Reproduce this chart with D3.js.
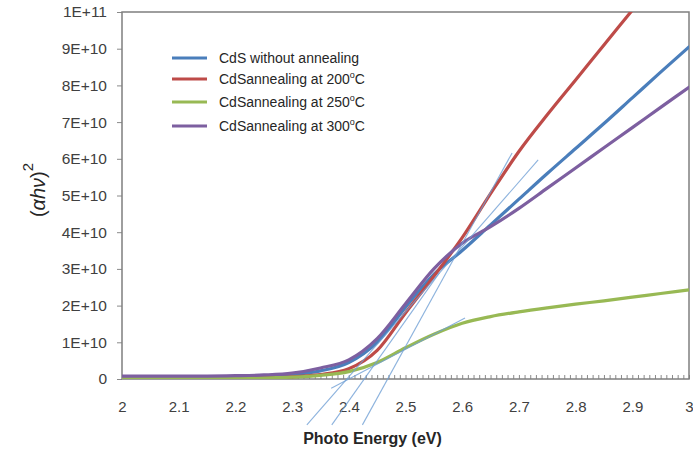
<!DOCTYPE html>
<html>
<head>
<meta charset="utf-8">
<script src="https://cdn.jsdelivr.net/npm/d3@7/dist/d3.min.js"></script>
<style>
  html, body { margin: 0; padding: 0; background: #fff; }
  svg { display: block; }
  text { font-family: "Liberation Sans", Arial, sans-serif; }
</style>
</head>
<body>
<svg id="chart" width="693" height="452"></svg>
<script>
// Photon energy (eV) sampled for every series
const energy = [2.00, 2.05, 2.10, 2.15, 2.20, 2.25, 2.30, 2.35, 2.40, 2.45, 2.50,
                2.55, 2.60, 2.65, 2.70, 2.75, 2.80, 2.85, 2.90, 2.95, 3.00];

// (αhν)² values in units of 1E+10
const cdsAsDeposited = [0.05, 0.05, 0.05, 0.05, 0.06, 0.08, 0.12, 0.22, 0.45, 1.00, 1.95,
                        2.85, 3.50, 4.20, 4.90, 5.60, 6.28, 6.96, 7.66, 8.36, 9.05];
const cdsAnneal200 = [0.02, 0.02, 0.02, 0.02, 0.03, 0.04, 0.06, 0.12, 0.28, 0.78, 1.80,
                      2.80, 3.85, 5.05, 6.20, 7.20, 8.15, 9.10, 10.05, 11.0, 11.95];
const cdsAnneal250 = [0.02, 0.02, 0.02, 0.02, 0.02, 0.03, 0.05, 0.10, 0.20, 0.45, 0.85,
                      1.22, 1.52, 1.70, 1.83, 1.94, 2.04, 2.13, 2.23, 2.33, 2.43];
const cdsAnneal300 = [0.08, 0.08, 0.08, 0.08, 0.09, 0.11, 0.16, 0.30, 0.52, 1.10, 2.05,
                      3.00, 3.70, 4.15, 4.65, 5.20, 5.75, 6.30, 6.85, 7.40, 7.95];

const seriesNames = ["CdS without annealing", "CdSannealing at 200", "CdSannealing at 250", "CdSannealing at 300"];
const seriesColors = ["#4a7ebb", "#be4b48", "#98b954", "#7d5fa0"];

// Linear-region extrapolations to the energy axis: [energy, value(1E+10)] end points
const tangentAsDeposited = [[2.326, -1.25], [2.734, 5.97]];
const tangent200 = [[2.424, -1.25], [2.688, 6.16]];
const tangent300 = [[2.370, -1.25], [2.560, 2.90]];
const tangent250 = [[2.369, -0.25], [2.605, 1.66]];

const xTicks = [2.0, 2.1, 2.2, 2.3, 2.4, 2.5, 2.6, 2.7, 2.8, 2.9, 3.0];
const xTickLabels = ["2", "2.1", "2.2", "2.3", "2.4", "2.5", "2.6", "2.7", "2.8", "2.9", "3"];
const yTicks = [0, 1, 2, 3, 4, 5, 6, 7, 8, 9, 10];
const yTickLabels = ["0", "1E+10", "2E+10", "3E+10", "4E+10", "5E+10", "6E+10", "7E+10", "8E+10", "9E+10", "1E+11"];

const svg = d3.select("#chart");
const plot = { left: 122, right: 689, top: 12, bottom: 379 };

const x = d3.scaleLinear().domain([2, 3]).range([plot.left, plot.right]);
const y = d3.scaleLinear().domain([0, 10]).range([plot.bottom, plot.top]);

svg.append("defs").append("clipPath").attr("id", "plotClip")
  .append("rect")
  .attr("x", plot.left).attr("y", plot.top)
  .attr("width", plot.right - plot.left).attr("height", plot.bottom - plot.top);

// Minor ticks on the energy axis (inside the frame)
const minorTicks = d3.range(0, 101).map(i => 2 + i * 0.01);
svg.append("g")
  .attr("transform", `translate(0,${plot.bottom})`)
  .call(d3.axisBottom(x).tickValues(minorTicks).tickSize(-4).tickFormat(""))
  .call(g => g.select(".domain").remove())
  .call(g => g.selectAll("line").attr("stroke", "#8a8a8a").attr("stroke-width", 1));

// Energy axis labels
svg.append("g")
  .attr("transform", `translate(0,${plot.bottom})`)
  .call(d3.axisBottom(x).tickValues(xTicks).tickSize(0).tickPadding(22)
        .tickFormat((d, i) => xTickLabels[i]))
  .call(g => g.select(".domain").remove())
  .call(g => g.selectAll("text").attr("font-size", 15).attr("fill", "#404040")
        .attr("font-family", "'Liberation Sans', Arial, sans-serif"));

// Value axis
svg.append("g")
  .attr("transform", `translate(${plot.left},0)`)
  .call(d3.axisLeft(y).tickValues(yTicks).tickSize(5).tickPadding(10)
        .tickFormat((d, i) => yTickLabels[i]))
  .call(g => g.select(".domain").remove())
  .call(g => g.selectAll("line").attr("stroke", "#8a8a8a"))
  .call(g => g.selectAll("text").attr("font-size", 15.5).attr("fill", "#404040")
        .attr("font-family", "'Liberation Sans', Arial, sans-serif"));

// Plot frame
svg.append("rect")
  .attr("x", plot.left).attr("y", plot.top)
  .attr("width", plot.right - plot.left).attr("height", plot.bottom - plot.top)
  .attr("fill", "none").attr("stroke", "#7f7f7f").attr("stroke-width", 1.5);

// Absorption curves
const allSeries = [cdsAsDeposited, cdsAnneal200, cdsAnneal250, cdsAnneal300];
const line = d3.line()
  .x(d => x(d[0]))
  .y(d => y(d[1]))
  .curve(d3.curveMonotoneX);

const curves = svg.append("g").attr("clip-path", "url(#plotClip)");
allSeries.forEach((vals, i) => {
  curves.append("path")
    .datum(energy.map((e, k) => [e, vals[k]]))
    .attr("d", line)
    .attr("fill", "none")
    .attr("stroke", seriesColors[i])
    .attr("stroke-width", 3.2)
    .attr("stroke-linecap", "round")
    .attr("stroke-linejoin", "round");
});

// Extrapolation lines
const straight = d3.line().x(d => x(d[0])).y(d => y(d[1]));
[tangentAsDeposited, tangent200, tangent300, tangent250].forEach(seg => {
  svg.append("path")
    .datum(seg)
    .attr("d", straight)
    .attr("fill", "none")
    .attr("stroke", "#6f9fd4")
    .attr("stroke-opacity", 0.8)
    .attr("stroke-width", 1.1);
});

// Legend
const legend = svg.append("g").attr("transform", "translate(172,58)");
const legendGap = [0, 21, 44, 68];
seriesNames.forEach((name, i) => {
  const row = legend.append("g").attr("transform", `translate(0,${legendGap[i]})`);
  row.append("line")
    .attr("x1", 0).attr("x2", 35).attr("y1", 0).attr("y2", 0)
    .attr("stroke", seriesColors[i]).attr("stroke-width", 3);
  const t = row.append("text")
    .attr("x", 47).attr("y", 5)
    .attr("font-size", 14).attr("fill", "#262626");
  t.append("tspan").text(name);
  if (i > 0) {
    t.append("tspan").attr("dy", -6).attr("font-size", 9).text("o");
    t.append("tspan").attr("dy", 6).text("C");
  }
});

// Axis titles
svg.append("text")
  .attr("x", (plot.left + plot.right) / 2 - 33)
  .attr("y", 444)
  .attr("text-anchor", "middle")
  .attr("font-size", 16)
  .attr("font-weight", "bold")
  .attr("fill", "#262626")
  .text("Photo Energy (eV)");

const yTitle = svg.append("text")
  .attr("transform", "translate(45,190) rotate(-90)")
  .attr("text-anchor", "middle")
  .attr("font-size", 20)
  .attr("fill", "#262626")
  .attr("font-family", "'DejaVu Serif', 'Liberation Serif', serif");
yTitle.append("tspan").text("(");
yTitle.append("tspan").attr("font-style", "italic").text("αhν");
yTitle.append("tspan").text(")");
yTitle.append("tspan").attr("dy", -12).attr("font-size", 15)
  .attr("font-family", "'Liberation Sans', Arial, sans-serif").text("2");
</script>
</body>
</html>
